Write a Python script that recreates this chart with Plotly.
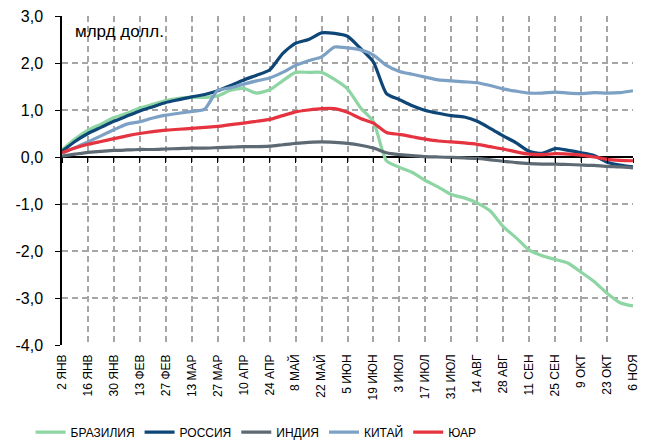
import pandas as pd
import plotly.graph_objects as go

# weekly observation dates (2 Jan .. 6 Nov)
weeks = pd.date_range("2023-01-02", periods=45, freq="7D")

tick_labels = ["2 ЯНВ", "16 ЯНВ", "30 ЯНВ", "13 ФЕВ", "27 ФЕВ", "13 МАР", "27 МАР",
               "10 АПР", "24 АПР", "8 МАЙ", "22 МАЙ", "5 ИЮН", "19 ИЮН", "3 ИЮЛ",
               "17 ИЮЛ", "31 ИЮЛ", "14 АВГ", "28 АВГ", "11 СЕН", "25 СЕН", "9 ОКТ",
               "23 ОКТ", "6 НОЯ"]

y_ticks = [-4, -3, -2, -1, 0, 1, 2, 3]
y_tick_labels = ["-4,0", "-3,0", "-2,0", "-1,0", "0,0", "1,0", "2,0", "3,0"]

brazil = [0.15, 0.38, 0.57, 0.70, 0.84, 0.93, 1.04, 1.12, 1.20, 1.25, 1.27, 1.27, 1.30,
          1.42, 1.46, 1.36, 1.43, 1.62, 1.80, 1.80, 1.80, 1.65, 1.45, 1.05, 0.75, -0.08,
          -0.22, -0.33, -0.50, -0.64, -0.80, -0.87, -0.98, -1.15, -1.48, -1.72, -1.98,
          -2.10, -2.18, -2.26, -2.45, -2.65, -2.90, -3.10, -3.17]

russia = [0.12, 0.33, 0.50, 0.63, 0.76, 0.87, 0.98, 1.07, 1.16, 1.22, 1.28, 1.33, 1.41,
          1.52, 1.64, 1.74, 1.85, 2.20, 2.42, 2.50, 2.64, 2.63, 2.57, 2.31, 2.02, 1.35,
          1.22, 1.09, 0.99, 0.93, 0.88, 0.85, 0.76, 0.61, 0.45, 0.30, 0.12, 0.08, 0.18,
          0.14, 0.09, 0.03, -0.11, -0.17, -0.21]

india = [0.02, 0.06, 0.10, 0.12, 0.14, 0.15, 0.16, 0.16, 0.17, 0.18, 0.19, 0.19, 0.20,
         0.21, 0.22, 0.22, 0.23, 0.26, 0.29, 0.31, 0.32, 0.31, 0.29, 0.25, 0.19, 0.09,
         0.05, 0.03, 0.01, 0.00, -0.01, -0.02, -0.03, -0.06, -0.09, -0.12, -0.14, -0.15,
         -0.15, -0.16, -0.17, -0.18, -0.20, -0.21, -0.23]

china = [0.08, 0.20, 0.32, 0.45, 0.58, 0.70, 0.75, 0.83, 0.89, 0.93, 0.97, 1.02, 1.42,
         1.47, 1.55, 1.62, 1.68, 1.80, 1.95, 2.05, 2.13, 2.34, 2.32, 2.28, 2.17, 1.95,
         1.82, 1.76, 1.70, 1.64, 1.62, 1.60, 1.58, 1.52, 1.45, 1.40, 1.36, 1.36, 1.38,
         1.36, 1.35, 1.37, 1.36, 1.37, 1.41]

sar = [0.09, 0.19, 0.27, 0.33, 0.39, 0.45, 0.50, 0.54, 0.57, 0.59, 0.61, 0.63, 0.65,
       0.69, 0.72, 0.76, 0.80, 0.88, 0.96, 1.00, 1.03, 1.03, 0.95, 0.82, 0.72, 0.52,
       0.48, 0.43, 0.38, 0.34, 0.32, 0.30, 0.27, 0.22, 0.17, 0.11, 0.06, 0.05, 0.07,
       0.06, 0.04, 0.00, -0.05, -0.07, -0.08]

series = [
    ("БРАЗИЛИЯ", brazil, "#8ED5A4"),
    ("РОССИЯ", russia, "#0D4677"),
    ("ИНДИЯ", india, "#5D6A74"),
    ("КИТАЙ", china, "#7DA1C4"),
    ("ЮАР", sar, "#E5333F"),
]

FONT = "Liberation Sans, Arial, sans-serif"

fig = go.Figure()
for name, vals, color in series:
    fig.add_trace(go.Scatter(
        x=weeks, y=vals, name=name, mode="lines",
        line=dict(color=color, width=3.2, shape="spline", smoothing=0.6),
    ))

tickvals = list(weeks[::2])

fig.update_layout(
    width=649, height=441,
    margin=dict(l=62, r=16, t=16, b=96, autoexpand=False),
    paper_bgcolor="white", plot_bgcolor="white",
    font=dict(family=FONT, color="black"),
    showlegend=True,
    legend=dict(
        orientation="h", x=-0.055, xanchor="left", y=-0.265, yanchor="middle",
        font=dict(family=FONT, size=12, color="black"),
        itemwidth=30, tracegroupgap=0,
    ),
    xaxis=dict(
        type="date", range=[weeks[0], weeks[-1]], automargin=False,
        tickmode="array", tickvals=tickvals, ticktext=tick_labels,
        tickangle=-90, tickfont=dict(size=12, family=FONT),
        showgrid=True, gridcolor="#A6A6A6", gridwidth=1.5, griddash="6px,4px",
        showline=False, zeroline=False, ticks="", ticklabelstandoff=6,
    ),
    xaxis2=dict(
        type="date", range=[weeks[0], weeks[-1]], overlaying="x",
        anchor="free", position=4 / 7, side="bottom", automargin=False,
        tickmode="array", tickvals=tickvals, ticktext=[""] * len(tickvals),
        showticklabels=False, ticks="outside", ticklen=5, tickwidth=1.3,
        tickcolor="black", showgrid=False, showline=False, zeroline=False,
    ),
    yaxis=dict(
        range=[-4, 3], tickmode="array", tickvals=y_ticks, ticktext=y_tick_labels,
        automargin=False,
        tickfont=dict(size=16), showgrid=True, gridcolor="#A6A6A6", gridwidth=1.5,
        griddash="6px,4px", zeroline=True, zerolinecolor="black", zerolinewidth=1.5,
        showline=True, linecolor="black", linewidth=1.5,
        ticks="outside", ticklen=5, tickwidth=1.3, tickcolor="black",
        ticklabelstandoff=9,
    ),
    annotations=[dict(
        text="млрд долл.", xref="paper", yref="paper", x=0.02, y=0.952,
        xanchor="left", yanchor="middle", showarrow=False,
        font=dict(size=17, family=FONT),
    )],
)

# invisible trace on xaxis2 so its ticks render on the zero line
fig.add_trace(go.Scatter(x=[weeks[0]], y=[0], xaxis="x2", mode="markers",
                         marker=dict(opacity=0), showlegend=False, hoverinfo="skip"))

fig.write_html("out.html", config={"displayModeBar": False},
               post_script="document.body.style.margin='0px';document.body.style.padding='0px';")
